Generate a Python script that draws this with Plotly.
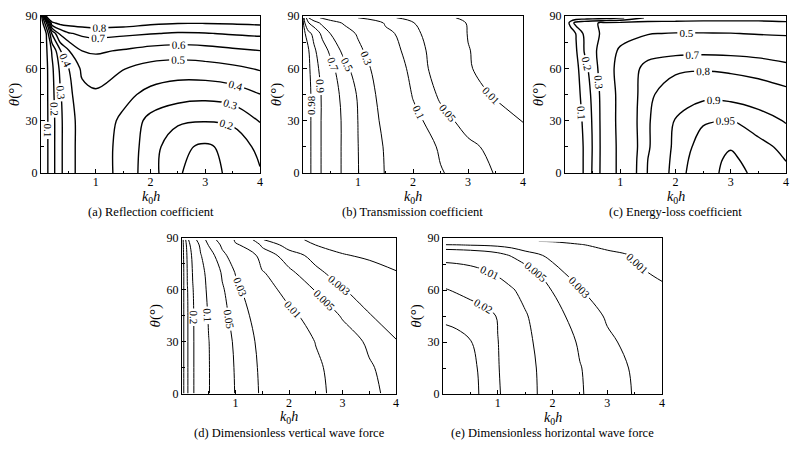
import plotly.graph_objects as go

SERIF = "Liberation Serif"

# ---- (a) reflection coefficient ----
A_K0H = [0, 0.1, 0.2, 0.35, 0.5, 0.75, 1.0, 1.5, 2.0, 2.5, 3.0, 3.5, 4.0]
A_THETA = [0, 15, 30, 45, 60, 70, 80, 86, 90]
A_R = [
    [0, 0.08, 0.16, 0.28, 0.36, 0.44, 0.45, 0.37, 0.24, 0.11, 0.05, 0.13, 0.19],
    [0, 0.08, 0.16, 0.28, 0.36, 0.44, 0.45, 0.37, 0.25, 0.12, 0.085, 0.13, 0.23],
    [0, 0.08, 0.16, 0.28, 0.36, 0.44, 0.46, 0.38, 0.27, 0.22, 0.205, 0.22, 0.305],
    [0, 0.08, 0.17, 0.29, 0.37, 0.47, 0.49, 0.43, 0.37, 0.34, 0.33, 0.35, 0.398],
    [0, 0.08, 0.18, 0.32, 0.395, 0.52, 0.535, 0.505, 0.465, 0.45, 0.46, 0.48, 0.51],
    [0, 0.09, 0.21, 0.39, 0.49, 0.6, 0.615, 0.59, 0.56, 0.55, 0.56, 0.58, 0.598],
    [0, 0.105, 0.41, 0.62, 0.69, 0.72, 0.73, 0.72, 0.705, 0.69, 0.695, 0.71, 0.72],
    [0, 0.29, 0.78, 0.83, 0.84, 0.85, 0.86, 0.85, 0.82, 0.805, 0.805, 0.81, 0.82],
    [0, 0.85, 0.9, 0.9, 0.9, 0.9, 0.9, 0.9, 0.9, 0.9, 0.9, 0.9, 0.9],
]
A_LEVELS = [0.1, 0.2, 0.3, 0.4, 0.5, 0.6, 0.7, 0.8]

# ---- (b) transmission coefficient ----
B_K0H = [0, 0.1, 0.2, 0.35, 0.5, 0.75, 1.0, 1.5, 2.0, 2.5, 3.0, 3.5, 4.0]
B_THETA = [0, 15, 30, 45, 60, 70, 80, 86, 89]
B_T = [
    [1.0, 0.995, 0.96, 0.89, 0.8, 0.67, 0.505, 0.29, 0.17, 0.105, 0.07, 0.048, 0.03],
    [1.0, 0.995, 0.96, 0.89, 0.8, 0.67, 0.502, 0.28, 0.155, 0.09, 0.058, 0.04, 0.025],
    [1.0, 0.995, 0.96, 0.89, 0.8, 0.67, 0.498, 0.24, 0.12, 0.065, 0.035, 0.018, 0.009],
    [1.0, 0.995, 0.96, 0.89, 0.79, 0.65, 0.48, 0.2, 0.095, 0.042, 0.0175, 0.008, 0.004],
    [1.0, 0.99, 0.95, 0.86, 0.76, 0.56, 0.4, 0.18, 0.075, 0.03, 0.011, 0.005, 0.003],
    [1.0, 0.985, 0.93, 0.8, 0.66, 0.44, 0.34, 0.14, 0.07, 0.028, 0.0105, 0.005, 0.003],
    [1.0, 0.95, 0.85, 0.65, 0.495, 0.38, 0.28, 0.12, 0.06, 0.025, 0.0095, 0.005, 0.003],
    [1.0, 0.71, 0.6, 0.45, 0.38, 0.28, 0.22, 0.09, 0.052, 0.022, 0.009, 0.004, 0.002],
    [1.0, 0.5, 0.35, 0.28, 0.22, 0.15, 0.1, 0.06, 0.035, 0.015, 0.006, 0.003, 0.0015],
]
B_LEVELS = [0.98, 0.9, 0.7, 0.5, 0.3, 0.1, 0.05, 0.01]

# ---- (c) energy-loss coefficient ----
C_K0H = [0, 0.1, 0.2, 0.35, 0.5, 0.75, 1.0, 1.5, 2.0, 2.5, 3.0, 3.5, 4.0]
C_THETA = [0, 8, 15, 30, 45, 60, 70, 80, 86, 89]
C_E = [
    [0, 0.01, 0.04, 0.11, 0.21, 0.38, 0.55, 0.805, 0.93, 0.982, 0.996, 0.986, 0.96],
    [0, 0.01, 0.04, 0.11, 0.207, 0.38, 0.55, 0.8, 0.925, 0.978, 0.995, 0.978, 0.948],
    [0, 0.01, 0.04, 0.11, 0.205, 0.38, 0.55, 0.79, 0.92, 0.97, 0.988, 0.962, 0.94],
    [0, 0.01, 0.05, 0.12, 0.21, 0.38, 0.56, 0.79, 0.905, 0.945, 0.952, 0.93, 0.895],
    [0, 0.01, 0.06, 0.14, 0.22, 0.38, 0.56, 0.78, 0.86, 0.885, 0.88, 0.86, 0.83],
    [0, 0.02, 0.07, 0.17, 0.24, 0.4, 0.58, 0.75, 0.78, 0.79, 0.78, 0.76, 0.73],
    [0, 0.04, 0.09, 0.205, 0.26, 0.4, 0.53, 0.64, 0.67, 0.675, 0.67, 0.66, 0.64],
    [0, 0.03, 0.105, 0.22, 0.28, 0.32, 0.42, 0.49, 0.51, 0.51, 0.505, 0.49, 0.48],
    [0, 0.14, 0.24, 0.27, 0.29, 0.315, 0.33, 0.33, 0.32, 0.32, 0.32, 0.32, 0.31],
    [0, 0.02, 0.03, 0.04, 0.05, 0.06, 0.08, 0.22, 0.26, 0.27, 0.27, 0.27, 0.27],
]
C_LEVELS = [0.1, 0.2, 0.3, 0.5, 0.7, 0.8, 0.9, 0.95, 0.99]

# ---- (d) dimensionless vertical wave force ----
D_K0H = [0, 0.05, 0.1, 0.2, 0.35, 0.5, 0.75, 1.0, 1.5, 2.0, 2.5, 3.0, 3.5, 4.0]
D_THETA = [0, 15, 30, 45, 60, 70, 80, 86, 89]
D_FZ = [
    [0.8, 0.5, 0.31, 0.21, 0.14, 0.102, 0.065, 0.049, 0.027, 0.017, 0.0115, 0.0078, 0.0056, 0.0042],
    [0.8, 0.5, 0.31, 0.21, 0.14, 0.102, 0.065, 0.048, 0.026, 0.016, 0.011, 0.0075, 0.0053, 0.0038],
    [0.8, 0.5, 0.31, 0.21, 0.14, 0.101, 0.063, 0.046, 0.024, 0.0145, 0.0098, 0.0066, 0.0045, 0.0031],
    [0.8, 0.5, 0.31, 0.21, 0.135, 0.095, 0.058, 0.041, 0.02, 0.0115, 0.0075, 0.0047, 0.0031, 0.0021],
    [0.8, 0.5, 0.305, 0.205, 0.125, 0.088, 0.053, 0.035, 0.013, 0.0078, 0.0048, 0.0031, 0.0022, 0.0015],
    [0.8, 0.5, 0.29, 0.195, 0.12, 0.08, 0.047, 0.029, 0.0105, 0.0055, 0.0034, 0.0022, 0.0015, 0.00105],
    [0.8, 0.45, 0.27, 0.18, 0.103, 0.062, 0.034, 0.022, 0.0065, 0.0038, 0.0024, 0.00108, 0.0008, 0.0006],
    [0.8, 0.4, 0.24, 0.16, 0.085, 0.048, 0.027, 0.011, 0.0045, 0.0022, 0.00098, 0.0006, 0.0004, 0.0003],
    [0.8, 0.35, 0.22, 0.13, 0.065, 0.04, 0.022, 0.0085, 0.0031, 0.0014, 0.0007, 0.0004, 0.0003, 0.0002],
]
D_LEVELS = [0.6, 0.3, 0.2, 0.1, 0.05, 0.03, 0.01, 0.005, 0.003, 0.001]

# ---- (e) dimensionless horizontal wave force ----
E_K0H = [0.05, 0.25, 0.5, 0.75, 1.0, 1.25, 1.5, 2.0, 2.5, 3.0, 3.5, 4.0]
E_THETA = [0, 15, 30, 45, 60, 70, 80, 86, 88]
E_FX = [
    [0.038, 0.037, 0.034, 0.0275, 0.021, 0.016, 0.012, 0.0075, 0.0052, 0.0038, 0.0029, 0.0022],
    [0.036, 0.035, 0.033, 0.027, 0.0205, 0.0158, 0.0118, 0.0074, 0.0051, 0.0037, 0.0028, 0.0021],
    [0.034, 0.033, 0.0305, 0.025, 0.0202, 0.0155, 0.0113, 0.0068, 0.0047, 0.0033, 0.0025, 0.0019],
    [0.028, 0.027, 0.025, 0.023, 0.0195, 0.0145, 0.0105, 0.0058, 0.0041, 0.0028, 0.0021, 0.0015],
    [0.0205, 0.019, 0.017, 0.015, 0.0128, 0.0105, 0.0085, 0.0049, 0.0031, 0.0021, 0.0015, 0.0011],
    [0.0135, 0.013, 0.012, 0.0107, 0.0092, 0.0077, 0.0062, 0.0036, 0.0022, 0.0015, 0.0011, 0.0009],
    [0.0075, 0.0073, 0.007, 0.0065, 0.0058, 0.0048, 0.0037, 0.0026, 0.0017, 0.0012, 0.00095, 0.0007],
    [0.0031, 0.00305, 0.0029, 0.0028, 0.0026, 0.0023, 0.002, 0.0015, 0.00105, 0.0008, 0.0006, 0.0005],
    [0.0016, 0.0015, 0.0014, 0.0013, 0.0012, 0.0011, 0.00105, 0.00095, 0.0008, 0.0006, 0.0005, 0.0004],
]
E_LEVELS = [0.03, 0.02, 0.01, 0.005, 0.003, 0.001]

CAPTIONS = [
    "(a) Reflection coefficient",
    "(b) Transmission coefficient",
    "(c) Energy-loss coefficient",
    "(d) Dimensionless vertical wave force",
    "(e) Dimensionless horizontal wave force",
]

W, H = 812, 454

# panel boxes in pixels: left, right, top, bottom
BOXES = [
    (41, 260, 16, 173),
    (303, 523, 16, 173),
    (565, 786, 16, 173),
    (182, 396, 238, 393.5),
    (443, 662, 238, 394),
]

PANELS = [
    (A_K0H, A_THETA, A_R, A_LEVELS, 1.4),
    (B_K0H, B_THETA, B_T, B_LEVELS, 1.0),
    (C_K0H, C_THETA, C_E, C_LEVELS, 1.4),
    (D_K0H, D_THETA, D_FZ, D_LEVELS, 1.0),
    (E_K0H, E_THETA, E_FX, E_LEVELS, 1.0),
]

fig = go.Figure()

for i, ((xs, ys, zs, levels, lw), box) in enumerate(zip(PANELS, BOXES), start=1):
    sx = "" if i == 1 else str(i)
    for lev in levels:
        fig.add_trace(go.Contour(
            x=xs, y=ys, z=zs,
            xaxis="x" + sx, yaxis="y" + sx,
            autocontour=False,
            contours=dict(start=lev, end=lev, size=1, coloring="lines",
                          showlabels=True, labelformat=".3~g",
                          labelfont=dict(family=SERIF, size=11, color="black")),
            colorscale=[[0, "black"], [1, "black"]],
            line=dict(width=lw, smoothing=1.0),
            showscale=False, hoverinfo="skip",
        ))

    left, right, top, bottom = box
    fig.layout["xaxis" + sx] = dict(
        domain=[left / W, right / W], anchor="y" + sx, automargin=False,
        range=[0, 4], tickmode="array", tickvals=[1, 2, 3, 4],
        ticks="inside", ticklen=4, tickcolor="black", ticklabelstandoff=-2,
        minor=dict(tickmode="linear", tick0=0, dtick=0.5, ticks="inside",
                   ticklen=2.5, tickcolor="black"),
        showline=True, linecolor="black", linewidth=1, mirror=True,
        showgrid=False, zeroline=False,
        tickfont=dict(family=SERIF, size=12, color="black"),
    )
    fig.layout["yaxis" + sx] = dict(
        domain=[(H - bottom) / H, (H - top) / H], anchor="x" + sx, automargin=False,
        range=[0, 90], tickmode="array", tickvals=[0, 30, 60, 90],
        ticks="inside", ticklen=4, tickcolor="black",
        minor=dict(tickmode="linear", tick0=0, dtick=15, ticks="inside",
                   ticklen=2.5, tickcolor="black"),
        showline=True, linecolor="black", linewidth=1, mirror=True,
        showgrid=False, zeroline=False,
        tickfont=dict(family=SERIF, size=12, color="black"),
        title=dict(text="<i>θ</i>(°)", standoff=2,
                   font=dict(family=SERIF, size=15, color="black")),
    )
    cx = (left + right) / 2 / W
    # x-axis title and panel caption
    fig.add_annotation(
        text="<i>k</i><sub>0</sub><i>h</i>", xref="paper", yref="paper",
        x=cx, y=(H - (bottom + 24)) / H, xanchor="center", yanchor="middle",
        showarrow=False, font=dict(family=SERIF, size=14, color="black"),
    )
    fig.add_annotation(
        text=CAPTIONS[i - 1], xref="paper", yref="paper",
        x=cx, y=(H - (bottom + 39)) / H, xanchor="center", yanchor="middle",
        showarrow=False, font=dict(family=SERIF, size=12.5, color="black"),
    )

fig.update_layout(
    width=W, height=H, autosize=False,
    margin=dict(l=0, r=0, t=0, b=0),
    paper_bgcolor="white", plot_bgcolor="white",
    showlegend=False,
    font=dict(family=SERIF, color="black"),
)

fig.write_html("out.html", config={"displayModeBar": False},
               post_script="document.body.style.margin='0';")
